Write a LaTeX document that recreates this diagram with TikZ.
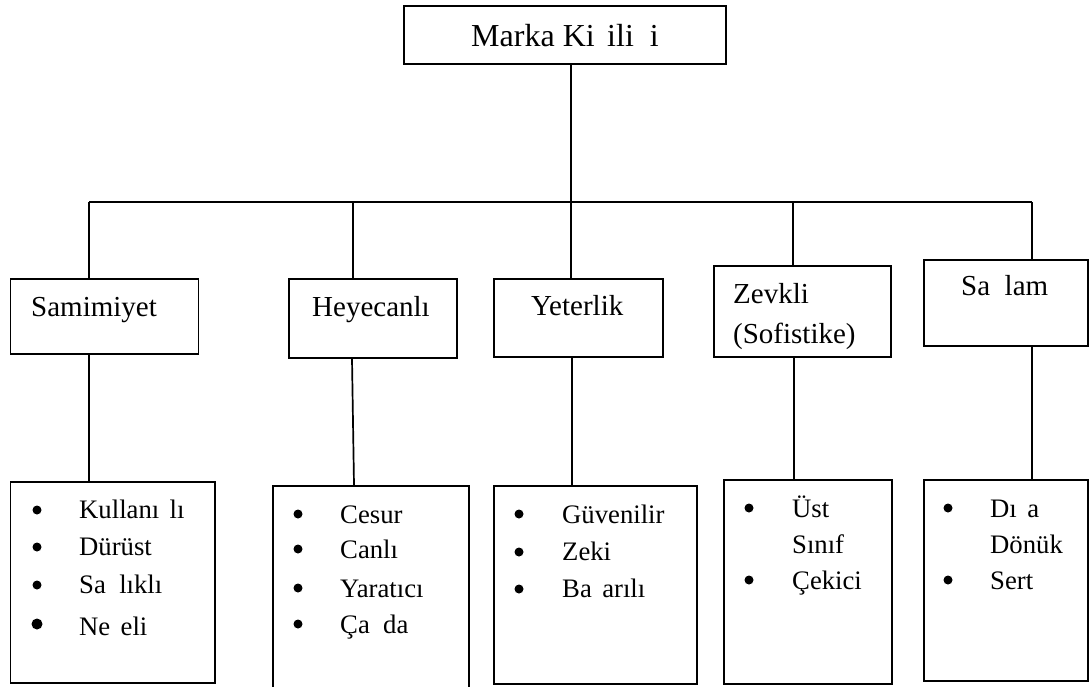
\documentclass[tikz,border=0pt]{standalone}
\usepackage{fontspec}
\setmainfont{Liberation Serif}
% blank left where a glyph is missing from the label
\newcommand\glgap[1]{\kern#1em\relax}
\begin{document}
\begin{tikzpicture}[x=1pt,y=-1pt,
  box/.style={draw, line width=1.7pt, inner sep=0pt, anchor=north west},
  conn/.style={line width=1.7pt},
  head/.style={font=\fontsize{32}{38}\selectfont, inner sep=0pt, anchor=base},
  cat/.style={font=\fontsize{29}{35}\selectfont, inner sep=0pt, anchor=base west},
  lbl/.style={font=\fontsize{26.7}{32}\selectfont, inner sep=0pt, anchor=base west},
  dot/.style={circle, fill=black, inner sep=0pt, minimum size=9pt},
  bigdot/.style={dot, minimum size=11pt}]
\useasboundingbox (0,0) rectangle (1090,686);
\clip (0,0) rectangle (1090,686);

% root
\node[box, minimum width=322pt, minimum height=58pt] (root) at (403,5) {};
\node[head] (rootT) at (565,46) {Marka Ki\glgap{0.389}ili\glgap{0.5}i};

% dimension boxes
\node[box, minimum width=188pt, minimum height=75pt] (samB) at (9.5,278) {};
\node[box, minimum width=168pt, minimum height=79pt] (heyB) at (288,278) {};
\node[box, minimum width=169pt, minimum height=78pt] (yetB) at (493,278) {};
\node[box, minimum width=177pt, minimum height=91pt] (zevB) at (713,265) {};
\node[box, minimum width=164pt, minimum height=86pt] (salB) at (923,259) {};

\node[cat] (samT) at (31,316) {Samimiyet};
\node[cat] (heyT) at (312,316) {Heyecanlı};
\node[cat] (yetT) at (531,315) {Yeterlik};
\node[cat] (zevT) at (733,303) {Zevkli};
\node[cat] (zevT2) at (733,343) {(Sofistike)};
\node[cat] (salT) at (961,295) {Sa\glgap{0.5}lam};

% trait boxes
\node[box, minimum width=204.5pt, minimum height=201pt] (samL) at (9.5,481) {};
\node[box, minimum width=196pt, minimum height=215pt] (heyL) at (272,485) {};
\node[box, minimum width=203pt, minimum height=198pt] (yetL) at (493,485) {};
\node[box, minimum width=168pt, minimum height=204pt] (zevL) at (723,479) {};
\node[box, minimum width=164pt, minimum height=201pt] (salL) at (923,479) {};

% bus and connectors
\coordinate (busL) at (89,202);
\coordinate (busM) at (571,202);
\coordinate (busR) at (1032,202);
\draw[conn] (root.south -| busM) -- (busM);
\draw[conn] (busL) -- (busR);
\draw[conn] (busL) -- (samB.north -| busL);
\draw[conn] (353,202) -- (heyB.north -| 353,0);
\draw[conn] (busM) -- (yetB.north -| busM);
\draw[conn] (793,202) -- (zevB.north -| 793,0);
\draw[conn] (busR) -- (salB.north -| busR);

\draw[conn] (samB.south -| 89,0) -- (samL.north -| 89,0);
\draw[conn] (heyB.south -| 352,0) -- (heyL.north -| 354,0);
\draw[conn] (yetB.south -| 572,0) -- (yetL.north -| 572,0);
\draw[conn] (zevB.south -| 794,0) -- (zevL.north -| 794,0);
\draw[conn] (salB.south -| 1032,0) -- (salL.north -| 1032,0);

% trait lists
\node[dot] (s1d) at (37,510) {};
\node[dot] (s2d) at (37,547) {};
\node[dot] (s3d) at (37,585) {};
\node[bigdot] (s4d) at (37,624) {};
\node[lbl] (s1) at (79,518) {Kullanı\glgap{0.389}lı};
\node[lbl] (s2) at (79,555) {Dürüst};
\node[lbl] (s3) at (79,593) {Sa\glgap{0.5}lıklı};
\node[lbl] (s4) at (79,635) {Ne\glgap{0.389}eli};

\node[dot] (h1d) at (298,514) {};
\node[dot] (h2d) at (298,549) {};
\node[dot] (h3d) at (298,588) {};
\node[dot] (h4d) at (298,624) {};
\node[lbl] (h1) at (340,523) {Cesur};
\node[lbl] (h2) at (340,558) {Canlı};
\node[lbl] (h3) at (340,597) {Yaratıcı};
\node[lbl] (h4) at (340,633) {Ça\glgap{0.5}da};

\node[dot] (y1d) at (519,514) {};
\node[dot] (y2d) at (519,552) {};
\node[dot] (y3d) at (519,589) {};
\node[lbl] (y1) at (562,523) {Güvenilir};
\node[lbl] (y2) at (562,560) {Zeki};
\node[lbl] (y3) at (562,597) {Ba\glgap{0.389}arılı};

\node[dot] (z1d) at (749,508) {};
\node[dot] (z3d) at (749,580) {};
\node[lbl] (z1) at (792,517) {Üst};
\node[lbl] (z2) at (792,553) {Sınıf};
\node[lbl] (z3) at (792,589) {Çekici};

\node[dot] (a1d) at (948,508) {};
\node[dot] (a3d) at (948,580) {};
\node[lbl] (a1) at (990,517) {Dı\glgap{0.389}a};
\node[lbl] (a2) at (990,553) {Dönük};
\node[lbl] (a3) at (990,589) {Sert};
\end{tikzpicture}
\end{document}
